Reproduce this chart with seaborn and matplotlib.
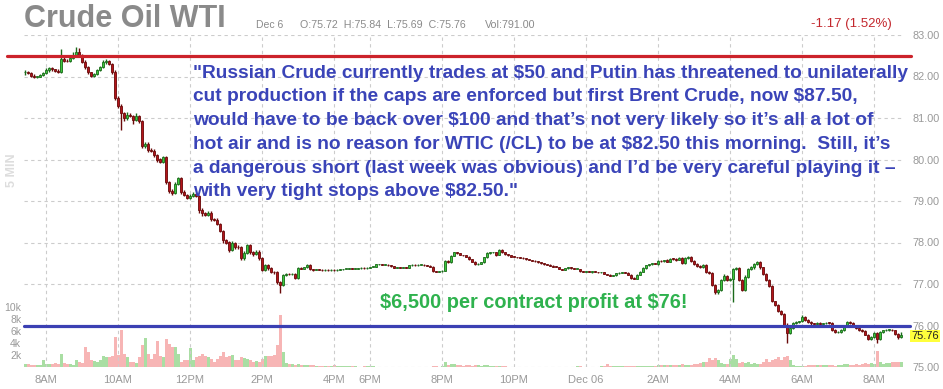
import matplotlib
matplotlib.use("Agg")
import matplotlib.pyplot as plt
import seaborn as sns
import numpy as np
import pandas as pd

# 5 min bars, Dec 5 07:25 -> Dec 6 08:45, one row per hour (first row 7:25-7:55)
closes = [
    82.12, 82.08, 82.02, 81.99, 82.00, 82.04, 82.08,
    82.15, 82.20, 82.17, 82.14, 82.12, 82.42, 82.38, 82.37, 82.44, 82.52, 82.60, 82.50,
    82.36, 82.22, 82.10, 82.02, 82.05, 82.16, 82.24, 82.34, 82.38, 82.30, 82.12, 81.48,
    81.30, 81.12, 81.00, 81.08, 81.05, 80.95, 81.05, 80.92, 80.32, 80.38, 80.24, 80.20,
    80.10, 80.00, 79.95, 80.05, 79.45, 79.25, 79.20, 79.42, 79.55, 79.22, 79.15, 79.08,
    79.13, 79.17, 79.12, 78.78, 78.70, 78.67, 78.72, 78.56, 78.54, 78.45, 78.28, 78.05,
    78.00, 77.82, 77.98, 77.90, 77.88, 77.63, 77.75, 77.94, 77.76, 77.72, 77.78, 77.62,
    77.34, 77.46, 77.38, 77.29, 77.28, 77.05, 76.98, 77.22, 77.24, 77.23, 77.24, 77.15,
    77.38, 77.37, 77.40, 77.46, 77.36, 77.34, 77.35, 77.34, 77.33, 77.34, 77.33, 77.34,
    77.33, 77.34, 77.35, 77.36, 77.36, 77.37, 77.36, 77.37, 77.38, 77.39, 77.38, 77.39,
    77.41, 77.42, 77.47, 77.48, 77.46, 77.46, 77.45, 77.43, 77.39, 77.40, 77.39, 77.40,
    77.39, 77.45, 77.46, 77.45, 77.46, 77.46, 77.45, 77.44, 77.42, 77.31, 77.30, 77.31,
    77.32, 77.56, 77.52, 77.68, 77.76, 77.74, 77.70, 77.69, 77.66, 77.60, 77.54, 77.47,
    77.49, 77.52, 77.64, 77.74, 77.76, 77.77, 77.70, 77.83, 77.76, 77.72, 77.69, 77.66,
    77.65, 77.64, 77.63, 77.62, 77.60, 77.58, 77.56, 77.55, 77.52, 77.50, 77.47, 77.46,
    77.44, 77.42, 77.41, 77.36, 77.34, 77.38, 77.41, 77.38, 77.36, 77.36, 77.31, 77.29,
    77.30, 77.29, 77.31, 77.29, 77.28, 77.28, 77.24, 77.22, 77.20, 77.21, 77.26, 77.27,
    77.28, 77.27, 77.22, 77.15, 77.13, 77.22, 77.30, 77.38, 77.45, 77.47, 77.50, 77.48,
    77.56, 77.55, 77.58, 77.54, 77.61, 77.60, 77.58, 77.62, 77.50, 77.62, 77.66, 77.56,
    77.48, 77.44, 77.41, 77.46, 77.30, 77.26, 76.98, 76.80, 76.86, 77.10, 77.20, 77.10,
    77.12, 77.36, 77.38, 77.10, 76.86, 77.18, 77.36, 77.40, 77.48, 77.52, 77.40, 77.24,
    77.10, 76.95, 76.58, 76.50, 76.35, 76.28, 76.02, 75.82, 75.94, 76.06, 76.09, 76.10,
    76.20, 76.14, 76.08, 76.05, 76.04, 76.06, 76.04, 76.05, 76.07, 76.06, 75.90, 75.84,
    75.85, 75.90, 75.98, 76.09, 76.06, 75.99, 75.93, 75.90, 75.86, 75.78, 75.68, 75.72,
    75.81, 75.67, 75.85, 75.88, 75.89, 75.90, 75.88, 75.80, 75.72, 75.76,
]
first_open = 82.10

# wick beyond the body, in cents
up_wick = [
    3, 2, 2, 3, 2, 3, 4,
    5, 3, 3, 2, 3, 25, 5, 4, 3, 6, 12, 8,
    4, 3, 3, 2, 4, 3, 2, 5, 3, 2, 3, 3,
    5, 4, 3, 6, 4, 3, 8, 3, 4, 3, 3, 4,
    6, 4, 3, 3, 4, 3, 5, 3, 4, 3, 5, 3,
    3, 4, 3, 3, 4, 3, 4, 3, 3, 4, 3, 3,
    3, 4, 5, 4, 3, 3, 4, 3, 3, 3, 4, 3,
    3, 3, 3, 3, 2, 3, 2, 3, 2, 2, 2, 2,
    2, 2, 2, 2, 2, 1, 1, 1, 1, 1, 1, 1,
    1, 1, 1, 1, 1, 1, 1, 1, 1, 1, 1, 1,
    1, 1, 2, 1, 1, 1, 1, 1, 1, 1, 1, 1,
    1, 1, 1, 1, 1, 1, 1, 1, 1, 1, 1, 1,
    1, 2, 2, 2, 2, 2, 1, 1, 1, 1, 1, 1,
    1, 1, 2, 2, 2, 1, 1, 2, 1, 1, 1, 1,
    1, 1, 1, 1, 1, 1, 1, 1, 1, 1, 1, 1,
    1, 1, 1, 1, 1, 1, 1, 1, 1, 1, 1, 1,
    1, 1, 1, 1, 1, 1, 1, 1, 1, 1, 1, 1,
    1, 1, 1, 1, 1, 1, 2, 2, 1, 2, 1, 1,
    2, 2, 1, 2, 2, 1, 2, 3, 2, 4, 2, 2,
    2, 2, 2, 2, 2, 2, 3, 2, 2, 2, 3, 2,
    3, 3, 3, 4, 3, 4, 3, 3, 3, 3, 3, 2,
    2, 3, 3, 2, 3, 2, 3, 3, 3, 2, 3, 2,
    5, 2, 2, 2, 2, 2, 2, 2, 2, 2, 2, 2,
    2, 2, 2, 3, 2, 2, 2, 2, 2, 2, 2, 2,
    3, 3, 2, 2, 2, 2, 2, 2, 2, 8,
]
dn_wick = [
    6, 3, 3, 3, 2, 2, 2,
    2, 3, 3, 2, 3, 3, 4, 3, 2, 3, 3, 3,
    3, 3, 5, 3, 3, 2, 3, 3, 3, 3, 5, 4,
    5, 40, 8, 4, 3, 10, 3, 4, 5, 4, 5, 3,
    4, 6, 4, 3, 5, 5, 6, 4, 3, 4, 4, 4,
    3, 4, 3, 8, 6, 4, 3, 4, 3, 4, 3, 5,
    4, 5, 3, 5, 4, 6, 4, 3, 3, 4, 3, 4,
    3, 3, 4, 3, 3, 4, 20, 3, 3, 2, 2, 3,
    2, 2, 2, 2, 2, 2, 1, 1, 1, 1, 1, 1,
    1, 1, 1, 1, 1, 1, 1, 1, 1, 1, 1, 1,
    1, 1, 1, 1, 1, 1, 1, 1, 1, 1, 1, 1,
    1, 1, 1, 1, 1, 1, 1, 1, 1, 3, 1, 1,
    1, 1, 1, 1, 1, 1, 1, 1, 1, 1, 1, 1,
    1, 1, 1, 1, 1, 1, 3, 1, 1, 1, 1, 1,
    1, 1, 1, 1, 1, 1, 1, 1, 1, 1, 1, 1,
    1, 1, 1, 1, 1, 1, 1, 1, 1, 1, 1, 1,
    1, 1, 3, 1, 1, 1, 1, 1, 1, 1, 1, 1,
    1, 1, 1, 2, 2, 1, 1, 1, 1, 1, 1, 1,
    2, 1, 2, 1, 2, 1, 2, 1, 3, 2, 1, 3,
    2, 2, 2, 2, 3, 2, 3, 3, 3, 2, 2, 2,
    3, 55, 3, 3, 3, 3, 3, 2, 3, 2, 3, 3,
    3, 3, 2, 4, 3, 3, 4, 24, 3, 3, 2, 2,
    2, 2, 2, 3, 2, 2, 3, 2, 2, 2, 3, 3,
    3, 2, 3, 2, 2, 2, 2, 3, 2, 2, 4, 3,
    3, 8, 2, 2, 2, 2, 2, 2, 4, 3,
]

# contracts per bar, thousands
volume_k = [
    0.5, 0.45, 0.4, 0.35, 0.3, 0.4, 1.2,
    0.5, 0.55, 0.5, 0.6, 0.55, 2.1, 0.6, 0.5, 0.45, 0.4, 1.1, 0.8,
    0.6, 3.3, 2.5, 1.1, 1.0, 0.8, 1.2, 1.9, 1.7, 1.6, 1.8, 5.0,
    2.0, 6.1, 2.2, 1.7, 0.8, 0.9, 0.7, 1.7, 3.6, 4.9, 2.2, 1.4,
    2.2, 4.4, 1.8, 1.6, 4.6, 3.8, 3.3, 3.4, 2.2, 0.8, 1.1, 1.2,
    3.1, 1.2, 1.6, 1.8, 2.1, 1.8, 1.7, 1.4, 0.8, 1.4, 1.9, 2.5,
    1.7, 1.8, 2.0, 1.1, 1.1, 1.6, 1.5, 1.4, 1.2, 0.8, 1.0, 0.9,
    1.4, 1.9, 1.8, 1.9, 2.0, 3.6, 8.6, 2.5, 0.6, 0.5, 0.45, 0.4,
    0.45, 0.4, 0.35, 0.4, 0.3, 0.3, 0.25, 0.2, 0.15, 0.15, 0.2, 0.15,
    0.4, 0.15, 0.1, 0.1, 0.1, 0.1, 0.1, 0.1, 0.08, 0.08, 0.1, 0.1,
    0.2, 0.1, 0.08, 0.05, 0.05, 0.05, 0.05, 0.05, 0.05, 0.05, 0.05, 0.05,
    0.05, 0.05, 0.05, 0.05, 0.05, 0.05, 0.05, 0.05, 0.05, 0.25, 0.1, 0.05,
    0.1, 0.8, 0.4, 0.5, 0.45, 0.3, 0.3, 0.25, 0.3, 0.35, 0.25, 0.3,
    0.3, 0.25, 0.3, 0.35, 0.2, 0.2, 0.15, 0.25, 0.1, 0.1, 0.08, 0.05,
    0.05, 0.05, 0.05, 0.05, 0.05, 0.05, 0.05, 0.05, 0.05, 0.05, 0.05, 0.05,
    0.05, 0.05, 0.05, 0.05, 0.05, 0.05, 0.05, 0.05, 0.05, 0.1, 0.1, 0.05,
    0.05, 0.05, 0.05, 0.05, 0.05, 0.1, 0.2, 0.55, 0.2, 0.15, 0.1, 0.1,
    0.1, 0.1, 0.1, 0.15, 0.2, 0.15, 0.15, 0.2, 0.2, 0.2, 0.25, 0.2,
    0.4, 0.35, 0.4, 0.3, 0.35, 0.4, 0.3, 0.4, 0.45, 0.4, 0.35, 0.4,
    0.55, 0.45, 0.65, 0.8, 0.85, 1.5, 1.2, 1.5, 1.1, 0.6, 0.5, 0.55,
    1.4, 2.0, 1.4, 0.65, 0.8, 0.7, 0.85, 0.55, 0.6, 0.55, 0.5, 0.9,
    1.4, 0.85, 1.2, 1.4, 1.7, 1.2, 1.6, 1.9, 1.1, 0.4, 0.2, 0.2,
    0.1, 0.25, 0.3, 0.35, 0.4, 0.4, 0.35, 0.4, 0.3, 0.35, 0.3, 0.15,
    0.4, 0.35, 0.55, 0.45, 0.3, 0.4, 0.45, 0.4, 0.55, 0.6, 0.5, 0.65,
    0.55, 2.6, 0.85, 0.55, 0.6, 0.7, 0.9, 0.85, 0.85, 0.79,
]

tick_bars = [7, 31, 55, 79, 103, 115, 139, 163, 187, 211, 235, 259, 283]
tick_labels = ["8AM", "10AM", "12PM", "2PM", "4PM", "6PM", "8PM", "10PM",
               "Dec 06", "2AM", "4AM", "6AM", "8AM"]
price_ticks = [75, 76, 77, 78, 79, 80, 81, 82, 83]
vol_ticks = [2, 4, 6, 8, 10]
vol_labels = ["2k", "4k", "6k", "8k", "10k"]
stop_level = 82.50
target_level = 76.00

note_lines = [
    "\"Russian Crude currently trades at $50 and Putin has threatened to unilaterally",
    "cut production if the caps are enforced but first Brent Crude, now $87.50,",
    "would have to be back over $100 and that\u2019s not very likely so it\u2019s all a lot of",
    "hot air and is no reason for WTIC (/CL) to be at $82.50 this morning.  Still, it\u2019s",
    "a dangerous short (last week was obvious) and I\u2019d be very careful playing it \u2013",
    "with very tight stops above $82.50.\"",
]
profit_note = "$6,500 per contract profit at $76!"

sns.set_style("white")
plt.rcParams['font.family'] = ['Liberation Sans', 'DejaVu Sans']
plt.rcParams['text.parse_math'] = False

df = pd.DataFrame({'close': closes, 'up': up_wick, 'dn': dn_wick, 'vol': volume_k})
df['open'] = df['close'].shift(1).fillna(first_open)
df['top'] = df[['open', 'close']].max(axis=1)
df['bot'] = df[['open', 'close']].min(axis=1)
df['high'] = df['top'] + df['up'] / 100
df['low'] = df['bot'] - df['dn'] / 100
df['bar'] = np.arange(len(df))
df['dir'] = np.where(df['close'] >= df['open'], 'up', 'down')

W, H = 943, 389
fig = plt.figure(figsize=(W / 100, H / 100), dpi=100)
L, R, T, B = 24, 903, 35, 367
pos = [L / W, 1 - B / H, (R - L) / W, (B - T) / H]
axv = fig.add_axes(pos)
ax = fig.add_axes(pos, sharex=axv)
ax.patch.set_visible(False)

# volume
up = (df['dir'] == 'up').to_numpy()
vol_col = np.where(up, '#a9dea3', '#f7b5b5')
axv.bar(df['bar'], df['vol'], width=1.0, color=vol_col, linewidth=0)
axv.set_ylim(0, (B - T) / 6)
axv.set_yticks(vol_ticks)
axv.set_yticklabels(vol_labels)
axv.tick_params(axis='y', length=0, pad=2, labelsize=7.5, labelcolor='#999999')
axv.tick_params(axis='x', labelbottom=False, length=0)
sns.despine(ax=axv, left=True, bottom=True)

# candles
fill = np.where(up, '#3ec83e', '#b3141a')
edge = np.where(up, '#1a6a1a', '#6a0a0a')
ax.vlines(df['bar'], df['low'], df['high'], colors=edge, lw=1.0, zorder=3)
ax.bar(df['bar'], np.maximum(df['top'] - df['bot'], 0.015), bottom=df['bot'],
       width=0.9, color=fill, edgecolor=edge, linewidth=0.6, zorder=4)

ax.set_xlim(-(25 - L) / 3, (R - 25) / 3)
ax.set_ylim(75, 83)
ax.yaxis.tick_right()
ax.set_yticks(price_ticks)
ax.set_yticklabels([f"{p:.2f}" for p in price_ticks])
ax.tick_params(axis='y', length=0, pad=7, labelsize=7.8, labelcolor='#999999')
ax.set_xticks(tick_bars)
ax.set_xticklabels(tick_labels)
ax.tick_params(axis='x', length=0, pad=6, labelsize=8, labelcolor='#999999')
ax.grid(True, ls=(0, (3, 3)), color='#cccccc', lw=0.8)
ax.set_axisbelow(True)
sns.despine(ax=ax, left=True, bottom=True, right=True, top=True)

ax.axhline(stop_level, xmin=(7 - L) / (R - L), xmax=(911 - L) / (R - L),
           color='#cc232b', lw=2.3, clip_on=False, zorder=6)
ax.axhline(target_level, xmin=0, xmax=(910 - L) / (R - L),
           color='#3b40b3', lw=2.3, clip_on=False, zorder=6)

# header
fig.text(L / W, 1 - 27 / H, "Crude Oil WTI", size=22, weight='bold',
         color='#8a8a8a', va='baseline')
fig.text(256 / W, 1 - 27.5 / H, "Dec 6", size=7.5, color='#8a8a8a', va='baseline')
fig.text(300 / W, 1 - 27.5 / H, "O:75.72  H:75.84  L:75.69  C:75.76", size=7.7,
         color='#8a8a8a', va='baseline')
fig.text(485 / W, 1 - 27.5 / H, "Vol:791.00", size=7.7, color='#8a8a8a', va='baseline')
fig.text(892 / W, 1 - 27.5 / H, "-1.17 (1.52%)", size=9.5, color='#c3272d',
         va='baseline', ha='right')
fig.text(12 / W, 1 - 170 / H, "5 MIN", size=9, weight='bold', color='#dddddd',
         rotation=90, ha='center', va='center')
fig.text(911 / W, 1 - 336 / H, "75.76", size=8, color='#222222', va='center',
         bbox=dict(boxstyle='square,pad=0.12', fc='#ffff3c', ec='none'), zorder=7)

# commentary, sized to the reference line widths
renderer = fig.canvas.get_renderer()
texts = []
for i, line in enumerate(note_lines):
    t = fig.text(193 / W, 1 - (73 + i * 23.8) / H, line, size=12, weight='bold',
                 color='#3a44b8', va='center', ha='left', zorder=8)
    texts.append(t)
w0 = texts[0].get_window_extent(renderer).width
for t in texts:
    t.set_fontsize(12 * 715 / w0)

g = fig.text(380 / W, 1 - 303 / H, profit_note, size=12, weight='bold',
             color='#2fb24e', va='center', ha='left', zorder=8)
gw = g.get_window_extent(renderer).width
g.set_fontsize(12 * 307 / gw)

fig.savefig("out.png", dpi=100)
